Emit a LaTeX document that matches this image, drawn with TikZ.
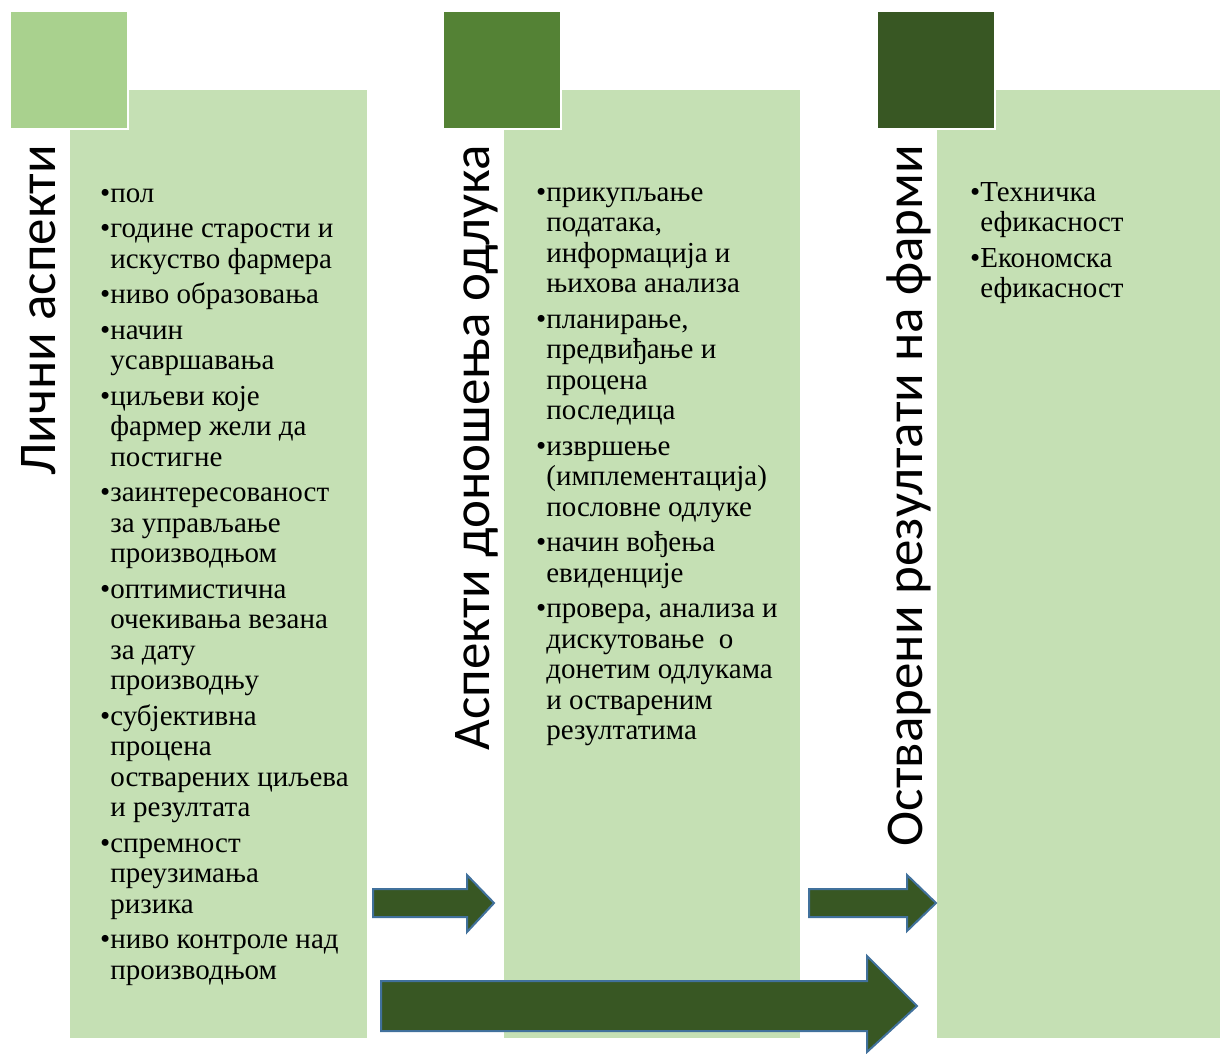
\documentclass[tikz,border=0pt]{standalone}
\usepackage{fontspec}
\setmainfont{Liberation Serif}
\newfontfamily\titlefont{Carlito}
\usetikzlibrary{positioning}

\definecolor{panelgreen}{HTML}{C5E0B4}
\definecolor{sqlight}{HTML}{A9D18E}
\definecolor{sqmid}{HTML}{548235}
\definecolor{sqdark}{HTML}{385723}
\definecolor{arrowline}{HTML}{41719C}

\tikzset{
    panel/.style={fill=panelgreen},
    square/.style={draw=white, line width=2.5pt},
    coltitle/.style={rotate=90, anchor=base east, inner sep=0pt, font=\titlefont\fontsize{53}{60}\selectfont},
    itemlist/.style={anchor=base west, inner sep=0pt, font=\fontsize{29}{30.5}\selectfont},
    blockarrow/.style={fill=sqdark, draw=arrowline, line width=2pt, line join=miter}
}

\begin{document}
\begin{tikzpicture}[x=1pt, y=-1pt]
    \useasboundingbox (0,0) rectangle (1220,1053);

    % Draw the panels
    \foreach \x/\w in {70/297, 504/296, 937/283} {
        \fill[panel] (\x,90) rectangle ++(\w,948);
    }

    % Draw the squares
    \foreach \x/\c in {10/sqlight, 443/sqmid, 877/sqdark} {
        \draw[square, fill=\c] (\x,11) rectangle ++(118,118);
    }

    % Column titles
    \node[coltitle] (titleA) at (55,145) {Лични аспекти};
    \node[coltitle] (titleB) at (489,145) {Аспекти доношења одлука};
    \node[coltitle] (titleC) at (922,145) {Остварени резултати на фарми};

    % Bullet lists
    \node[itemlist] (listA) at (100,202) {\begin{tabular}[t]{@{}l@{}l@{}}
        \textbullet & пол\\[5pt]
        \textbullet & године старости и\\
                    & искуство фармера\\[5pt]
        \textbullet & ниво образовања\\[5pt]
        \textbullet & начин\\
                    & усавршавања\\[5pt]
        \textbullet & циљеви које\\
                    & фармер жели да\\
                    & постигне\\[5pt]
        \textbullet & заинтересованост\\
                    & за управљање\\
                    & производњом\\[5pt]
        \textbullet & оптимистична\\
                    & очекивања везана\\
                    & за дату\\
                    & производњу\\[5pt]
        \textbullet & субјективна\\
                    & процена\\
                    & остварених циљева\\
                    & и резултата\\[5pt]
        \textbullet & спремност\\
                    & преузимања\\
                    & ризика\\[5pt]
        \textbullet & ниво контроле над\\
                    & производњом
    \end{tabular}};

    \node[itemlist] (listB) at (536,201) {\begin{tabular}[t]{@{}l@{}l@{}}
        \textbullet & прикупљање\\
                    & података,\\
                    & информација и\\
                    & њихова анализа\\[5pt]
        \textbullet & планирање,\\
                    & предвиђање и\\
                    & процена\\
                    & последица\\[5pt]
        \textbullet & извршење\\
                    & (имплементација)\\
                    & пословне одлуке\\[5pt]
        \textbullet & начин вођења\\
                    & евиденције\\[5pt]
        \textbullet & провера, анализа и\\
                    & дискутовање\ \ о\\
                    & донетим одлукама\\
                    & и оствареним\\
                    & резултатима
    \end{tabular}};

    \node[itemlist] (listC) at (970,201) {\begin{tabular}[t]{@{}l@{}l@{}}
        \textbullet & Техничка\\
                    & ефикасност\\[5pt]
        \textbullet & Економска\\
                    & ефикасност
    \end{tabular}};

    % Block arrows
    \draw[blockarrow] (373,889) -- (467,889) -- (467,875) -- (494,903) -- (467,932) -- (467,917) -- (373,917) -- cycle;
    \draw[blockarrow] (809,889) -- (907,889) -- (907,875) -- (936,903) -- (907,931) -- (907,917) -- (809,917) -- cycle;
    \draw[blockarrow] (381,981) -- (867,981) -- (867,956) -- (917,1006) -- (867,1052) -- (867,1031) -- (381,1031) -- cycle;

\end{tikzpicture}
\end{document}
